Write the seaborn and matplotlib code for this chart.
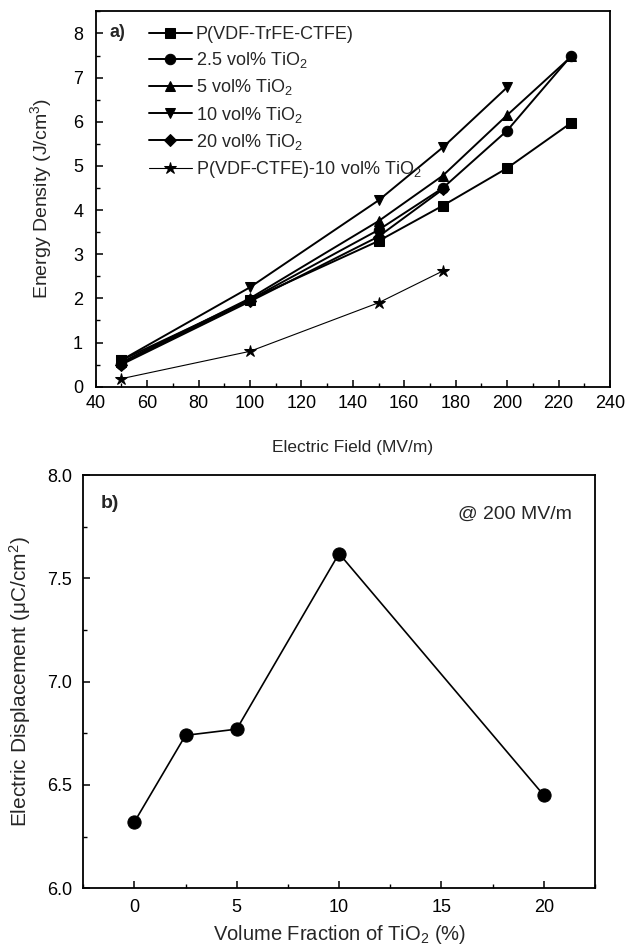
import matplotlib
matplotlib.use("Agg")
import matplotlib.pyplot as plt
import seaborn as sns
import pandas as pd
from matplotlib.ticker import MultipleLocator

sns.set_theme(style="ticks")
plt.rcParams['font.family'] = ['Liberation Sans', 'DejaVu Sans']
plt.rcParams['mathtext.fontset'] = 'custom'
plt.rcParams['mathtext.rm'] = 'Liberation Sans'
plt.rcParams['mathtext.it'] = 'Liberation Sans:italic'
plt.rcParams['mathtext.bf'] = 'Liberation Sans:bold'

# ---- Panel a data ----
field = [50, 100, 150, 175, 200, 225]
terpolymer = [0.60, 1.97, 3.30, 4.10, 4.95, 5.98]
tio2_2_5 = [0.52, 1.97, 3.55, 4.50, 5.80, 7.50]
tio2_5 = [0.55, 2.00, 3.75, 4.78, 6.15, 7.48]
field_10 = [50, 100, 150, 175, 200]
tio2_10 = [0.60, 2.25, 4.22, 5.42, 6.78]
field_20 = [50, 100, 150, 175]
tio2_20 = [0.50, 1.93, 3.40, 4.47]
field_ctfe = [50, 100, 150, 175]
ctfe_10 = [0.18, 0.80, 1.90, 2.62]

labels_a = ["P(VDF-TrFE-CTFE)", "2.5 vol% TiO$_2$", "5 vol% TiO$_2$",
            "10 vol% TiO$_2$", "20 vol% TiO$_2$", "P(VDF-CTFE)-10 vol% TiO$_2$"]

# ---- Panel b data ----
vol_frac = [0, 2.5, 5, 10, 20]
displacement = [6.32, 6.74, 6.77, 7.62, 6.45]

fig = plt.figure(figsize=(6.25, 9.5), dpi=100)
ax1 = fig.add_axes([0.153, 0.593, 0.823, 0.395])
ax2 = fig.add_axes([0.133, 0.065, 0.819, 0.435])

series = [
    (field, terpolymer, 's', 1.4, 6.5),
    (field, tio2_2_5, 'o', 1.4, 7.5),
    (field, tio2_5, '^', 1.4, 7.5),
    (field_10, tio2_10, 'v', 1.4, 7.5),
    (field_20, tio2_20, 'D', 1.4, 6.5),
    (field_ctfe, ctfe_10, '*', 0.8, 9),
]
for (xs, ys, m, lw, ms), lab in zip(series, labels_a):
    sns.lineplot(x=xs, y=ys, ax=ax1, color='black', marker=m, markersize=ms,
                 markeredgecolor='black', linewidth=lw, label=lab, sort=False)

ax1.set_xlim(40, 240)
ax1.set_ylim(0, 8.5)
ax1.xaxis.set_major_locator(MultipleLocator(20))
ax1.xaxis.set_minor_locator(MultipleLocator(10))
ax1.yaxis.set_major_locator(MultipleLocator(1))
ax1.yaxis.set_minor_locator(MultipleLocator(0.5))
ax1.set_xlabel("Electric Field (MV/m)", fontsize=12.5, labelpad=20)
ax1.set_ylabel("Energy Density (J/cm$^3$)", fontsize=14, labelpad=14)
leg = ax1.legend(loc='upper left', bbox_to_anchor=(0.075, 1.0), frameon=False,
                 fontsize=13, handlelength=2.4, labelspacing=0.4,
                 handletextpad=0.2, borderaxespad=0.4)
ax1.text(0.027, 0.945, "a)", transform=ax1.transAxes, fontsize=13,
         fontweight='bold', va='center', ha='left')

sns.lineplot(x=vol_frac, y=displacement, ax=ax2, color='black', marker='o',
             markersize=9.5, markeredgecolor='black', linewidth=1.2)
ax2.set_xlim(-2.5, 22.5)
ax2.set_ylim(6.0, 8.0)
ax2.xaxis.set_major_locator(MultipleLocator(5))
ax2.xaxis.set_minor_locator(MultipleLocator(2.5))
ax2.yaxis.set_major_locator(MultipleLocator(0.5))
ax2.yaxis.set_minor_locator(MultipleLocator(0.25))
ax2.yaxis.set_major_formatter(matplotlib.ticker.FormatStrFormatter('%.1f'))
ax2.set_xlabel("Volume Fraction of TiO$_2$ (%)", fontsize=14.5, labelpad=5)
ax2.set_ylabel("Electric Displacement (μC/cm$^2$)", fontsize=15, labelpad=10)
ax2.text(0.035, 0.93, "b)", transform=ax2.transAxes, fontsize=14,
         fontweight='bold', va='center', ha='left')
ax2.text(0.955, 0.905, "@ 200 MV/m", transform=ax2.transAxes, fontsize=14,
         va='center', ha='right')

for ax in (ax1, ax2):
    for s in ax.spines.values():
        s.set_visible(True)
        s.set_linewidth(1.3)
        s.set_color('black')
    ax.tick_params(which='both', direction='in', top=False, right=False,
                   colors='black', labelsize=13)
    ax.tick_params(which='major', length=5, width=1.1)
    ax.tick_params(which='minor', length=3, width=1.0)
ax1.tick_params(axis='x', which='major', pad=6)
ax1.tick_params(axis='y', which='major', pad=9)
ax2.tick_params(axis='x', which='major', pad=8)
ax2.tick_params(axis='y', which='major', pad=8)

fig.savefig("out.png", dpi=100)
